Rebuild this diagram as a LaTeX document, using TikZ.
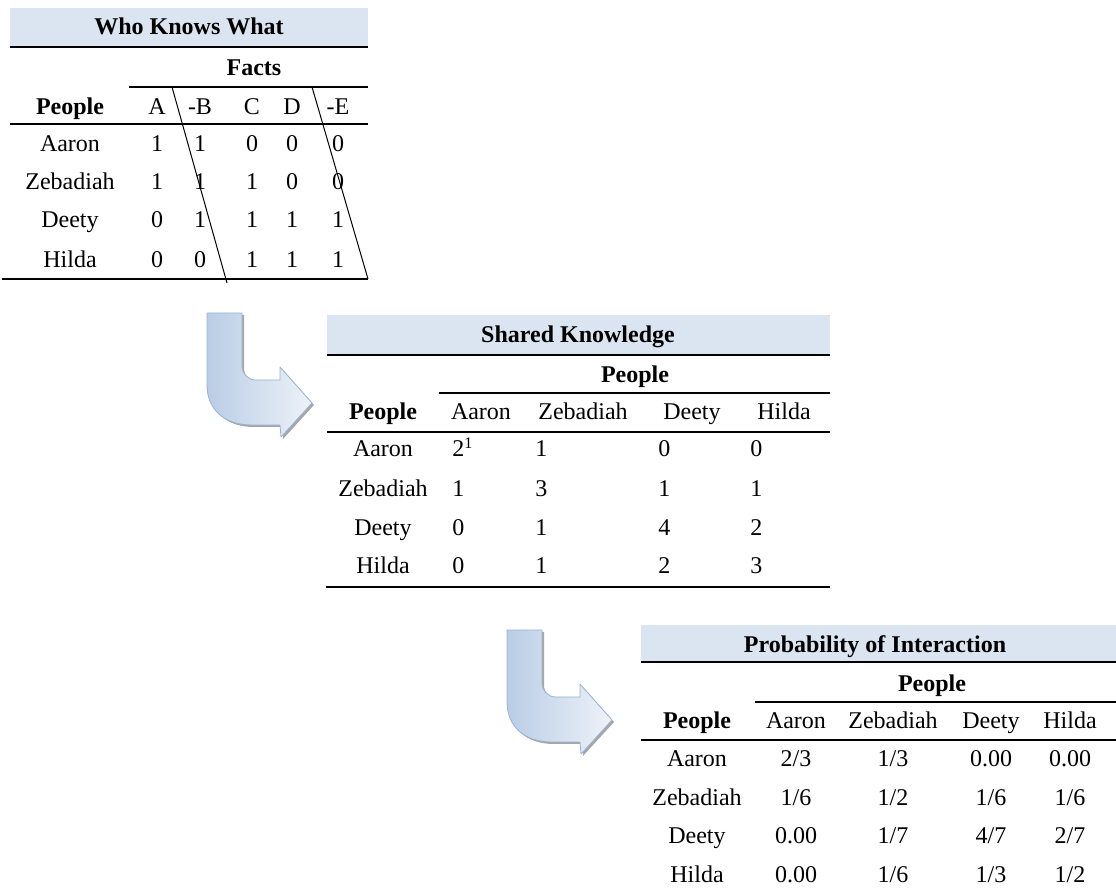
\documentclass[tikz,border=0pt]{standalone}
\usepackage{fontspec}
\setmainfont{Liberation Serif}
\definecolor{bandblue}{HTML}{DBE5F1}
\definecolor{arrowblue}{HTML}{B9CDE5}
\definecolor{arrowedge}{HTML}{9AB3D5}
\newcommand\tabfont{\fontsize{12}{14}\selectfont}
\tikzset{
  cell/.style={inner sep=0pt,anchor=base},
  lcell/.style={inner sep=0pt,anchor=base west},
  head/.style={cell,font=\tabfont\bfseries},
  band/.style={fill=bandblue},
  bandrule/.style={line width=1pt},
  rule/.style={line width=0.8pt},
  slant/.style={line width=0.5pt},
}
\begin{document}
\begin{tikzpicture}[x=0.5pt,y=-0.5pt,line join=round,font=\tabfont]
	\useasboundingbox (0,0) rectangle (1116,892);
	\def\bentarrow{(207,313) -- (207,385) .. controls (207,410) and (225,425) .. (252,425) -- (280,425) -- (281,437) -- (312,403) -- (280,367) -- (280,380) -- (256,380) .. controls (248,380) and (242,374) .. (242,366) -- (242,313) -- cycle}
	% arrows
	\foreach \dy/\dx in {0/0,317/300}{
		\begin{scope}[shift={(\dx,\dy)}]
			\fill[gray!70,shift={(2,2)}] \bentarrow;
			\shade[left color=arrowblue,right color=arrowblue!25,draw=arrowedge,line width=0.4pt] \bentarrow;
		\end{scope}
	}
	% who knows what
	\fill[band] (10,8) rectangle (368,47);
	\node[head] (whoTitle) at (189,35) {Who Knows What};
	\draw[bandrule] (10,47) -- (368,47);
	\node[head] (whoFacts) at (254,76) {Facts};
	\draw[rule] (129,87) -- (368,87);
	\node[head] (whoPeople) at (70,115) {People};
	\foreach \t/\x [count=\c] in {A/157,-B/200,C/252,D/292,-E/338}
		\node[cell] (who-0-\c) at (\x,115) {\t};
	\draw[rule] (10,124) -- (368,124);
	\def\whoX{{157,200,252,292,338}}
	\foreach \lab/\y/\vals [count=\r] in {Aaron/152/{1,1,0,0,0},Zebadiah/190/{1,1,1,0,0},Deety/228/{0,1,1,1,1},Hilda/268/{0,0,1,1,1}}{
		\node[cell] (who-\r-0) at (70,\y) {\lab};
		\foreach \v [count=\c] in \vals {
			\pgfmathsetmacro\x{\whoX[\c-1]}
			\node[cell] (who-\r-\c) at (\x,\y) {\v};
		}
	}
	\draw[rule] (2,279) -- (368,279);
	\draw[slant] (172,87) -- (227,283);
	\draw[slant] (312,87) -- (368,279);
	% shared knowledge
	\fill[band] (327,315) rectangle (830,355);
	\node[head] (shTitle) at (578,343) {Shared Knowledge};
	\draw[bandrule] (327,355) -- (830,355);
	\node[head] (shPeopleTop) at (635,383) {People};
	\draw[rule] (439,393) -- (830,393);
	\node[head] (shPeople) at (383,420) {People};
	\foreach \t/\x [count=\c] in {Aaron/481,Zebadiah/583,Deety/692,Hilda/784}
		\node[cell] (sh-0-\c) at (\x,420) {\t};
	\draw[rule] (327,432) -- (830,432);
	\def\shX{{452,535,658,750}}
	\foreach \lab/\y/\vals [count=\r] in {Aaron/457/{2\textsuperscript{1},1,0,0},Zebadiah/497/{1,3,1,1},Deety/536/{0,1,4,2},Hilda/574/{0,1,2,3}}{
		\node[cell] (sh-\r-0) at (383,\y) {\lab};
		\foreach \v [count=\c] in \vals {
			\pgfmathsetmacro\x{\shX[\c-1]}
			\node[lcell] (sh-\r-\c) at (\x,\y) {\v};
		}
	}
	\draw[rule] (326,587) -- (830,587);
	% probability of interaction
	\fill[band] (641,625) rectangle (1116,662);
	\node[head] (prTitle) at (875,653) {Probability of Interaction};
	\draw[bandrule] (641,662) -- (1116,662);
	\node[head] (prPeopleTop) at (932,692) {People};
	\draw[rule] (755,702) -- (1116,702);
	\node[head] (prPeople) at (697,729) {People};
	\foreach \t/\x [count=\c] in {Aaron/796,Zebadiah/893,Deety/991,Hilda/1070}
		\node[cell] (pr-0-\c) at (\x,729) {\t};
	\draw[rule] (641,740) -- (1116,740);
	\def\prX{{796,893,991,1070}}
	\foreach \lab/\y/\vals [count=\r] in {Aaron/767/{2/3,1/3,0.00,0.00},Zebadiah/806/{1/6,1/2,1/6,1/6},Deety/844/{0.00,1/7,4/7,2/7},Hilda/883/{0.00,1/6,1/3,1/2}}{
		\node[cell] (pr-\r-0) at (697,\y) {\lab};
		\foreach \v [count=\c] in \vals {
			\pgfmathsetmacro\x{\prX[\c-1]}
			\node[cell] (pr-\r-\c) at (\x,\y) {\v};
		}
	}
\end{tikzpicture}
\end{document}
